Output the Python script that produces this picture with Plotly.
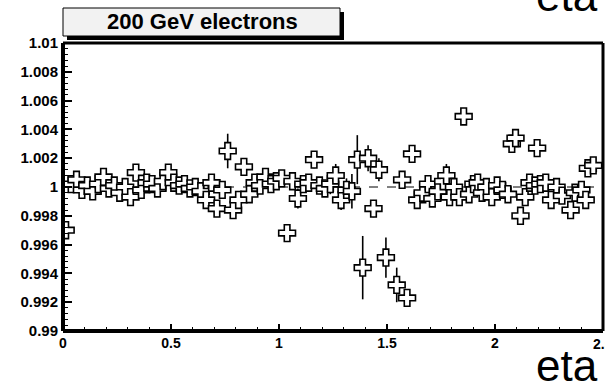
import plotly.graph_objects as go

# eta bin centres, ratio values, errors
eta = [0.0125, 0.0375, 0.0625, 0.0875, 0.1125, 0.1375, 0.1625, 0.1875, 0.2125, 0.2375,
       0.2625, 0.2875, 0.3125, 0.3375, 0.3625, 0.3875, 0.4125, 0.4375, 0.4625, 0.4875,
       0.5125, 0.5375, 0.5625, 0.5875, 0.6125, 0.6375, 0.6625, 0.6875, 0.7125, 0.7375,
       0.7625, 0.7875, 0.8125, 0.8375, 0.8625, 0.8875, 0.9125, 0.9375, 0.9625, 0.9875,
       1.0125, 1.0375, 1.0625, 1.0875, 1.1125, 1.1375, 1.1625, 1.1875, 1.2125, 1.2375,
       1.2625, 1.2875, 1.3125, 1.3375, 1.3625, 1.3875, 1.4125, 1.4375, 1.4625, 1.4950,
       1.5450, 1.5700, 1.5930, 1.6160, 1.6400, 1.6650, 1.6900, 1.7100, 1.7350, 1.7600,
       1.7750, 1.7900, 1.8100, 1.8350, 1.8550, 1.8800, 1.9000, 1.9200, 1.9400, 1.9600,
       1.9850, 2.0100, 2.0350, 2.0600, 2.0780, 2.0950, 2.1180, 2.1400, 2.1600, 2.1850,
       2.1950, 2.2100, 2.2350, 2.2600, 2.2850, 2.3100, 2.3500, 2.3700, 2.4000, 2.4200,
       2.4300, 2.4550]
ratio = [0.9970, 1.0002, 1.0005, 0.9998, 1.0001, 0.9997, 1.0002, 1.0007, 0.9999, 1.0001,
         0.9996, 1.0000, 0.9993, 1.0010, 0.9998, 1.0003, 1.0002, 0.9999, 1.0004, 1.0010,
         1.0003, 1.0001, 1.0002, 0.9999, 1.0000, 0.9997, 0.9991, 1.0003, 0.9985, 0.9998,
         1.0025, 0.9984, 0.9991, 1.0014, 0.9995, 1.0003, 1.0001, 1.0007, 1.0002, 1.0004,
         1.0006, 0.9968, 1.0004, 0.9992, 1.0002, 1.0003, 1.0019, 1.0001, 0.9999, 1.0002,
         1.0008, 0.9991, 0.9998, 0.9997, 1.0019, 0.9944, 1.0020, 0.9985, 1.0012, 0.9951,
         0.9932, 1.0005, 0.9923, 1.0023, 0.9991, 0.9996, 1.0002, 0.9992, 0.9997, 1.0004,
         1.0008, 0.9993, 1.0000, 0.9993, 1.0049, 0.9995, 1.0002, 1.0003, 0.9996, 1.0000,
         0.9993, 1.0001, 0.9998, 0.9995, 1.0030, 1.0034, 0.9980, 0.9993, 1.0003, 1.0001,
         1.0027, 1.0002, 1.0003, 0.9991, 1.0000, 0.9994, 0.9984, 0.9996, 0.9998, 0.9991,
         1.0013, 1.0015]
err = [0.0004, 0.0004, 0.0004, 0.0004, 0.0004, 0.0004, 0.0004, 0.0004, 0.0004, 0.0004,
       0.0004, 0.0004, 0.0004, 0.0004, 0.0004, 0.0004, 0.0004, 0.0004, 0.0004, 0.0004,
       0.0004, 0.0004, 0.0004, 0.0004, 0.0004, 0.0004, 0.0004, 0.0004, 0.0005, 0.0004,
       0.0012, 0.0005, 0.0005, 0.0004, 0.0004, 0.0004, 0.0005, 0.0005, 0.0004, 0.0005,
       0.0005, 0.0004, 0.0005, 0.0007, 0.0006, 0.0005, 0.0006, 0.0005, 0.0005, 0.0007,
       0.0008, 0.0007, 0.0008, 0.0012, 0.0017, 0.0022, 0.0009, 0.0006, 0.0008, 0.0014,
       0.0012, 0.0005, 0.0005, 0.0004, 0.0006, 0.0005, 0.0006, 0.0005, 0.0005, 0.0005,
       0.0008, 0.0006, 0.0005, 0.0005, 0.0005, 0.0005, 0.0005, 0.0005, 0.0005, 0.0005,
       0.0005, 0.0005, 0.0005, 0.0005, 0.0004, 0.0004, 0.0004, 0.0005, 0.0005, 0.0005,
       0.0004, 0.0005, 0.0005, 0.0004, 0.0005, 0.0005, 0.0004, 0.0005, 0.0005, 0.0004,
       0.0004, 0.0004]

x_ticks = [0, 0.5, 1, 1.5, 2]
x_ticktext = ["0", "0.5", "1", "1.5", "2"]
x_last_tick = 2.5
x_last_label = "2.5"
y_ticks = [0.99, 0.992, 0.994, 0.996, 0.998, 1.0, 1.002, 1.004, 1.006, 1.008, 1.01]
y_ticktext = ["0.99", "0.992", "0.994", "0.996", "0.998", "1", "1.002", "1.004", "1.006", "1.008", "1.01"]

title_text = "200 GeV electrons"
axis_label = "eta"

W, H = 605, 388
ml, mr, mt, mb = 63, 2, 43, 57
pw, ph = W - ml - mr, H - mt - mb

def px_x(p):
    return (p - ml) / pw

def px_y(p):
    return (H - mb - p) / ph

fig = go.Figure()
fig.add_trace(go.Scatter(
    x=eta, y=ratio, mode="markers",
    marker=dict(symbol="cross", size=14, color="white", line=dict(color="black", width=1.6)),
    error_y=dict(type="data", array=err, color="black", thickness=1.6, width=0),
    showlegend=False, cliponaxis=True,
))

font_fam = "Liberation Sans"
xtickfont = dict(family=font_fam, size=14, color="black", weight="bold")
ytickfont = dict(family=font_fam, size=15, color="black", weight="bold")
fig.update_layout(
    width=W, height=H,
    margin=dict(l=ml, r=mr, t=mt, b=mb),
    paper_bgcolor="white", plot_bgcolor="white",
    xaxis=dict(range=[0, 2.5], tickvals=x_ticks, ticktext=x_ticktext,
               ticks="inside", ticklen=7, tickwidth=1.5, tickcolor="black",
               minor=dict(dtick=0.1, tick0=0, ticks="inside", ticklen=4, tickwidth=1, tickcolor="black"),
               showgrid=False, zeroline=False, showline=False, ticklabelstandoff=2,
               tickfont=xtickfont),
    yaxis=dict(range=[0.99, 1.01], tickvals=y_ticks, ticktext=y_ticktext,
               ticks="inside", ticklen=9, tickwidth=1.5, tickcolor="black",
               minor=dict(dtick=0.0004, tick0=0.99, ticks="inside", ticklen=5, tickwidth=1, tickcolor="black"),
               showgrid=False, zeroline=False, showline=False, ticklabelstandoff=4,
               tickfont=ytickfont),
)

shapes = []
shapes.append(dict(type="line", xref="x", yref="y", x0=0, x1=2.5, y0=1, y1=1,
                   line=dict(color="black", width=1, dash="dash"), layer="below"))
shapes.append(dict(type="line", xref="x", yref="paper", x0=x_last_tick, x1=x_last_tick, y0=0, y1=7 / ph,
                   line=dict(color="black", width=1.5)))
shapes.append(dict(type="line", xref="paper", yref="paper", x0=0, x1=1, y0=1, y1=1,
                   line=dict(color="black", width=3)))
shapes.append(dict(type="line", xref="paper", yref="paper", x0=1, x1=1, y0=0, y1=1,
                   line=dict(color="black", width=3)))
shapes.append(dict(type="line", xref="paper", yref="paper", x0=0, x1=0, y0=0, y1=1,
                   line=dict(color="black", width=4)))
shapes.append(dict(type="line", xref="paper", yref="paper", x0=0, x1=1, y0=0, y1=0,
                   line=dict(color="black", width=4)))
shapes.append(dict(type="rect", xref="paper", yref="paper",
                   x0=px_x(67), x1=px_x(344), y0=px_y(40), y1=px_y(12),
                   fillcolor="black", line=dict(width=0)))
shapes.append(dict(type="rect", xref="paper", yref="paper",
                   x0=px_x(63), x1=px_x(340), y0=px_y(36), y1=px_y(8),
                   fillcolor="#f2f2f2", line=dict(color="black", width=1)))
fig.update_layout(shapes=shapes)

fig.add_annotation(text="<b>" + title_text + "</b>", xref="paper", yref="paper",
                   x=px_x(202), y=px_y(22), xanchor="center", yanchor="middle",
                   showarrow=False, font=dict(family=font_fam, size=22, color="black"))
fig.add_annotation(text="<b>" + x_last_label + "</b>", xref="x", yref="paper",
                   x=x_last_tick, y=px_y(334), xanchor="center", yanchor="top",
                   showarrow=False, font=dict(family=font_fam, size=14, color="black"))
fig.add_annotation(text=axis_label, xref="paper", yref="paper",
                   x=px_x(600), y=px_y(392), xanchor="right", yanchor="bottom",
                   showarrow=False, font=dict(family=font_fam, size=44, color="black"))
fig.add_annotation(text=axis_label, xref="paper", yref="paper",
                   x=px_x(600), y=px_y(22), xanchor="right", yanchor="bottom",
                   showarrow=False, font=dict(family=font_fam, size=44, color="black"))

fig.write_html("out.html")
